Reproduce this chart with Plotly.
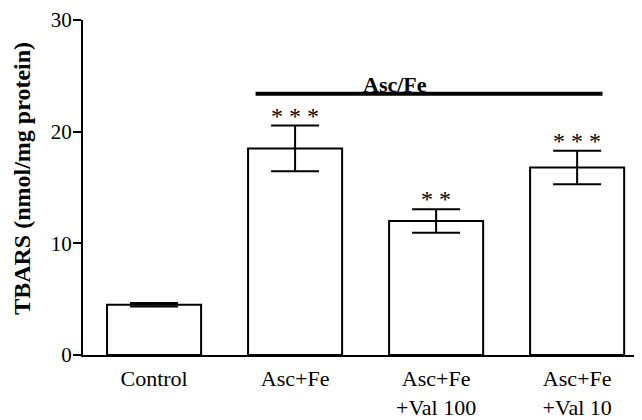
import plotly.graph_objects as go

categories = ["Control", "Asc+Fe", "Asc+Fe<br>+Val 100", "Asc+Fe<br>+Val 10"]
values = [4.5, 18.5, 12.0, 16.8]
errors = [0.15, 2.05, 1.05, 1.5]
stars = ["", "* * *", "* *", "* * *"]
y_ticks = [0, 10, 20, 30]

FONT = "Liberation Serif, Times New Roman, serif"
x_idx = list(range(len(categories)))

fig = go.Figure()
fig.add_trace(go.Bar(
    x=x_idx, y=values, width=0.667,
    marker=dict(color="white", line=dict(color="black", width=2)),
    error_y=dict(type="data", array=errors, visible=True, color="black",
                 thickness=2, width=24),
    showlegend=False,
))

for i, (v, e, s) in enumerate(zip(values, errors, stars)):
    if s:
        fig.add_annotation(x=i, y=v + e, text=s, showarrow=False,
                           yanchor="middle", yshift=10,
                           font=dict(family=FONT, size=24, color="black"))

fig.add_shape(type="line", xref="x", yref="y", x0=0.72, x1=3.18, y0=23.4, y1=23.4,
              line=dict(color="black", width=4))
fig.add_annotation(x=1.71, y=23.4, text="<b>Asc/Fe</b>", showarrow=False,
                   yanchor="middle", yshift=9,
                   font=dict(family=FONT, size=22, color="black"))

# y-axis title as rotated text
fig.add_annotation(xref="paper", yref="paper", x=-0.109, y=0.526,
                   text="<b>TBARS (nmol/mg protein)</b>", textangle=-90,
                   showarrow=False, xanchor="center", yanchor="middle",
                   font=dict(family=FONT, size=24, color="black"))

# page body has an 8px default margin; size the figure to fill the 642x420 window
fig.update_layout(
    width=634, height=412,
    margin=dict(l=75, r=0, t=9, b=63),
    plot_bgcolor="white", paper_bgcolor="white",
    font=dict(family=FONT, color="black"),
    xaxis=dict(range=[-0.504, 3.46], tickmode="array", tickvals=x_idx,
               ticktext=categories, showline=True, linecolor="black", linewidth=2,
               ticks="", showgrid=False, zeroline=False, ticklabelstandoff=3,
               tickfont=dict(family=FONT, size=22, color="black")),
    yaxis=dict(range=[0, 30], tickmode="array", tickvals=y_ticks,
               showline=True, linecolor="black", linewidth=2,
               ticks="outside", ticklen=8, tickwidth=2, tickcolor="black",
               showgrid=False, zeroline=False, ticklabeloverflow="allow",
               ticklabelstandoff=-3,
               tickfont=dict(family=FONT, size=21, color="black")),
)

fig.write_html("out.html")
